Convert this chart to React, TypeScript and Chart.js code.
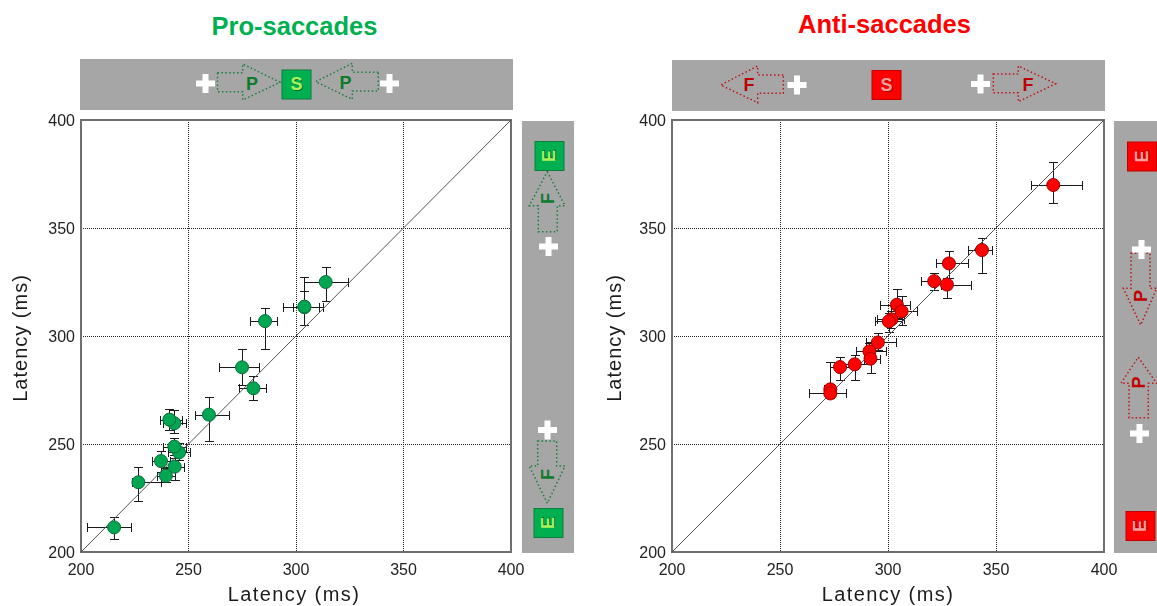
import React, { useEffect, useRef } from "react";
import { Chart, registerables } from "chart.js";

Chart.register(...registerables);

const proX = [215.4, 226.7, 239.5, 243.6, 237.2, 245.6, 243.4, 243.4, 241.1, 259.5, 280.2, 274.9, 285.6, 303.9, 303.9, 313.8];
const proXLow = [202.9, 223.6, 235.5, 238.3, 233.2, 240.6, 238.0, 238.3, 236.7, 252.9, 273.6, 264.3, 278.8, 293.8, 298.8, 303.7];
const proXHigh = [223.1, 237.1, 243.7, 248.1, 241.4, 250.7, 248.8, 248.8, 246.8, 268.7, 286.0, 282.6, 291.3, 310.5, 312.7, 324.3];
const proY = [211.4, 232.3, 235.3, 239.5, 242.1, 246.1, 248.8, 259.6, 261.3, 263.6, 275.8, 285.5, 306.9, 313.3, 313.6, 325.0];
const proYLow = [205.9, 223.6, 232.6, 233.3, 237.2, 242.6, 244.9, 255.0, 256.5, 251.4, 270.2, 277.3, 293.8, 305.1, 305.1, 316.4];
const proYHigh = [216.0, 239.5, 238.7, 243.4, 246.9, 250.3, 252.6, 265.7, 266.2, 271.6, 281.5, 293.8, 312.8, 321.0, 327.5, 332.1];

const antiX = [376.5, 343.5, 328.2, 321.4, 327.3, 304.1, 306.3, 301.6, 300.4, 295.3, 291.4, 291.9, 284.6, 277.8, 273.3, 273.3];
const antiXLow = [366.1, 337.2, 322.0, 315.4, 324.4, 296.2, 301.2, 294.7, 294.0, 289.6, 285.4, 289.1, 277.2, 273.3, 270.5, 263.4];
const antiXHigh = [389.8, 348.2, 337.0, 327.1, 338.6, 310.1, 313.2, 307.4, 306.6, 303.6, 299.0, 296.2, 291.9, 284.5, 275.6, 280.4];
const antiY = [369.9, 339.8, 333.6, 325.4, 323.8, 314.5, 311.4, 307.7, 306.8, 297.0, 292.9, 289.5, 286.9, 285.6, 275.3, 273.4];
const antiYLow = [361.7, 329.0, 326.7, 321.3, 317.7, 308.2, 305.1, 303.5, 302.0, 293.5, 288.9, 283.0, 279.5, 279.6, 271.1, 271.1];
const antiYHigh = [380.4, 345.5, 339.5, 329.0, 326.7, 321.6, 318.5, 311.6, 310.5, 301.5, 296.6, 293.5, 291.2, 290.1, 287.8, 278.0];

const axisMin = 200;
const axisMax = 400;
const axisStep = 50;
const identityLine = [200, 400];
const axisLabel = "Latency (ms)";
const proTitle = "Pro-saccades";
const antiTitle = "Anti-saccades";

const SANS = '"Liberation Sans", Arial, sans-serif';
const GREEN = { fill: "#00b050", edge: "#0b7d3c", text: "#a6f25c", shadow: "#0a6a30", dash: "#1b7d40", letter: "#0d7a2c" };
const RED = { fill: "#ff0000", edge: "#c00000", text: "#ff9c9c", shadow: "#a00000", dash: "#c0141c", letter: "#c00000" };

type Palette = typeof GREEN;

const Cross = ({ x, y }: { x: number; y: number }) => (
  <path
    d={`M${x - 9.5} ${y - 3}H${x - 3}V${y - 9.5}H${x + 3}V${y - 3}H${x + 9.5}V${y + 3}H${x + 3}V${y + 9.5}H${x - 3}V${y + 3}H${x - 9.5}Z`}
    fill="#fff"
  />
);

const Square = ({ x, y, label, c, rot }: { x: number; y: number; label: string; c: Palette; rot?: boolean }) => (
  <g>
    <rect x={x - 14.5} y={y - 14.5} width={29} height={29} fill={c.fill} stroke={c.edge} strokeWidth={1} />
    <g transform={`translate(${x} ${y})${rot ? " rotate(-90)" : ""}`}>
      <text x={1} y={6.5} textAnchor="middle" fontFamily={SANS} fontWeight="bold" fontSize={18} fill={c.shadow}>{label}</text>
      <text x={0} y={5.5} textAnchor="middle" fontFamily={SANS} fontWeight="bold" fontSize={18} fill={c.text}>{label}</text>
    </g>
  </g>
);

const Arrow = ({ pts, lx, ly, label, c, rot }: { pts: string; lx: number; ly: number; label: string; c: Palette; rot?: boolean }) => (
  <g>
    <polygon points={pts} fill="none" stroke={c.dash} strokeWidth={1.5} strokeDasharray="1.5 2.4" />
    <g transform={`translate(${lx} ${ly})${rot ? " rotate(-90)" : ""}`}>
      <text x={0} y={6.5} textAnchor="middle" fontFamily={SANS} fontWeight="bold" fontSize={18} fill={c.letter}>{label}</text>
    </g>
  </g>
);

const Diagrams = () => (
  <svg width={1157} height={606} style={{ position: "absolute", left: 0, top: 0 }}>
    <text x={294.5} y={35} textAnchor="middle" fontFamily={SANS} fontWeight="bold" fontSize={25.5} fill="#00b050">{proTitle}</text>
    <text x={884.5} y={33} textAnchor="middle" fontFamily={SANS} fontWeight="bold" fontSize={25.5} fill="#ff0000">{antiTitle}</text>

    <rect x={80} y={59} width={433} height={51} fill="#a6a6a6" />
    <rect x={672} y={60} width={433} height={51} fill="#a6a6a6" />
    <rect x={522} y={121} width={52} height={432} fill="#a6a6a6" />
    <rect x={1114} y={121} width={43} height={432} fill="#a6a6a6" />

    <Cross x={205.5} y={83.5} />
    <Arrow c={GREEN} label="P" lx={252} ly={83} pts="217.5,72.7 242.7,72.7 242.7,64 280,82.3 242.7,100 242.7,91.7 217.5,91.7" />
    <Square c={GREEN} label="S" x={296.5} y={84.5} />
    <Arrow c={GREEN} label="P" lx={345.5} ly={82.5} pts="378.3,72.3 352.3,72.3 352.3,63.3 315.7,81.7 352.3,99.3 352.3,91 378.3,91" />
    <Cross x={389.5} y={83.5} />

    <Arrow c={RED} label="F" lx={749} ly={84} pts="783.3,75 757.7,75 757.7,66 720.7,85 757.7,102.7 757.7,93.3 783.3,93.3" />
    <Cross x={797} y={85} />
    <Square c={RED} label="S" x={886.5} y={85} />
    <Cross x={980.5} y={84} />
    <Arrow c={RED} label="F" lx={1028} ly={84} pts="993.3,74 1018.3,74 1018.3,66 1055.7,83.7 1018.3,101.7 1018.3,92.7 993.3,92.7" />

    <Square c={GREEN} label="E" x={549.5} y={156} rot />
    <Arrow c={GREEN} label="F" lx={547.5} ly={198.5} rot pts="547.3,171.7 565,205.7 557.3,205.7 557.3,231.7 538.3,231.7 538.3,205.7 529.3,205.7" />
    <Cross x={548.5} y={246.5} />
    <Cross x={547.5} y={430} />
    <Arrow c={GREEN} label="F" lx={547} ly={474.5} rot pts="537.7,441 556.7,441 556.7,466 565,466 547.3,503.3 529.3,466 537.7,466" />
    <Square c={GREEN} label="E" x={548.5} y={523} rot />

    <Square c={RED} label="E" x={1142} y={156.5} rot />
    <Arrow c={RED} label="P" lx={1140} ly={296} rot pts="1131,253.3 1150,253.3 1150,288.3 1156.7,288.3 1140.7,325 1123.3,288.3 1131,288.3" />
    <Cross x={1141.5} y={249.5} />
    <Arrow c={RED} label="P" lx={1138.5} ly={382.5} rot pts="1138.3,357.3 1156.7,383.3 1148.3,383.3 1148.3,417.7 1129,417.7 1129,383.3 1121,383.3" />
    <Cross x={1139.5} y={433.5} />
    <Square c={RED} label="E" x={1140.5} y={526} rot />
  </svg>
);

interface PanelProps {
  left: number;
  width: number;
  axisWidth: number;
  rightPad: number;
  xs: number[];
  xLow: number[];
  xHigh: number[];
  ys: number[];
  yLow: number[];
  yHigh: number[];
  fill: string;
  edge: string;
  name: string;
  yTitleX: number;
  xTitleX: number;
}

const Panel = (p: PanelProps) => {
  const ref = useRef<HTMLCanvasElement | null>(null);
  useEffect(() => {
    if (!ref.current) return;

    const whiskers = {
      id: "whiskers",
      beforeDraw(chart: any) {
        chart.scales.y.getLabelItems().forEach((item: any) => {
          if (!item.shifted) {
            item.options.translation[1] += 1.5;
            item.shifted = true;
          }
        });
      },
      beforeDatasetsDraw(chart: any) {
        const { ctx, scales, chartArea: a } = chart;
        const { x, y } = scales;
        ctx.save();
        ctx.strokeStyle = "#6f6f6f";
        ctx.lineWidth = 2;
        ctx.strokeRect(a.left, a.top, a.right - a.left, a.bottom - a.top);
        ctx.strokeStyle = "#1a1a1a";
        ctx.lineWidth = 1;
        const cap = 4.5;
        ctx.beginPath();
        p.xs.forEach((_, i) => {
          const px = Math.round(x.getPixelForValue(p.xs[i])) + 0.5;
          const py = Math.round(y.getPixelForValue(p.ys[i])) + 0.5;
          const x0 = Math.round(x.getPixelForValue(p.xLow[i])) + 0.5;
          const x1 = Math.round(x.getPixelForValue(p.xHigh[i])) + 0.5;
          const y0 = Math.round(y.getPixelForValue(p.yLow[i])) + 0.5;
          const y1 = Math.round(y.getPixelForValue(p.yHigh[i])) + 0.5;
          ctx.moveTo(x0, py); ctx.lineTo(x1, py);
          ctx.moveTo(x0, py - cap); ctx.lineTo(x0, py + cap);
          ctx.moveTo(x1, py - cap); ctx.lineTo(x1, py + cap);
          ctx.moveTo(px, y0); ctx.lineTo(px, y1);
          ctx.moveTo(px - cap, y0); ctx.lineTo(px + cap, y0);
          ctx.moveTo(px - cap, y1); ctx.lineTo(px + cap, y1);
        });
        ctx.stroke();
        ctx.restore();
      },
      afterDraw(chart: any) {
        const { ctx, chartArea: a } = chart;
        ctx.save();
        ctx.fillStyle = "#1c1c1c";
        ctx.font = `20px ${SANS}`;
        ctx.letterSpacing = "1.4px";
        ctx.textAlign = "center";
        ctx.textBaseline = "middle";
        ctx.fillText(axisLabel, p.xTitleX - p.left, 595);
        ctx.letterSpacing = "1px";
        ctx.translate(p.yTitleX - p.left, (a.top + a.bottom) / 2 + 2);
        ctx.rotate(-Math.PI / 2);
        ctx.fillText(axisLabel, 0, 0);
        ctx.restore();
      },
    };

    const axis = (extra: object) => ({
      type: "linear",
      min: axisMin,
      max: axisMax,
      border: { display: false, dash: [1, 1] },
      grid: {
        drawTicks: false,
        color: (c: any) => (c.tick.value === axisMin || c.tick.value === axisMax ? "transparent" : "#222"),
        lineWidth: 1,
      },
      ...extra,
    });

    const chart = new Chart(ref.current, {
      type: "scatter",
      data: {
        datasets: [
          {
            type: "line",
            label: "identity",
            data: identityLine.map((v) => ({ x: v, y: v })),
            borderColor: "#555",
            borderWidth: 1,
            pointRadius: 0,
            order: 2,
          },
          {
            label: p.name,
            data: p.xs.map((x, i) => ({ x, y: p.ys[i] })),
            backgroundColor: p.fill,
            borderColor: p.edge,
            borderWidth: 1,
            pointRadius: 6.5,
            order: 1,
          },
        ],
      },
      options: {
        responsive: false,
        animation: false,
        layout: { padding: { top: 120, right: p.rightPad, left: 0, bottom: 0 } },
        plugins: { legend: { display: false }, tooltip: { enabled: false } },
        scales: {
          x: axis({
            afterFit: (s: any) => { s.height = 54; },
            ticks: { stepSize: axisStep, maxRotation: 0, padding: 9, color: "#222", font: { size: 16, family: SANS } },
          }),
          y: axis({
            afterFit: (s: any) => { s.width = p.axisWidth; },
            ticks: { stepSize: axisStep, padding: 6, color: "#222", font: { size: 16, family: SANS } },
          }),
        },
      } as any,
      plugins: [whiskers],
    } as any);
    return () => chart.destroy();
  }, []);
  return (
    <canvas
      ref={ref}
      width={p.width}
      height={606}
      style={{ position: "absolute", left: p.left, top: 0, width: p.width, height: 606 }}
    />
  );
};

export default function App() {
  return (
    <div style={{ position: "absolute", left: 0, top: 0, width: 1157, height: 606, background: "#fff", overflow: "hidden" }}>
      <Diagrams />
      <Panel
        name="Pro-saccades" left={0} width={540} axisWidth={81} rightPad={29}
        xs={proX} xLow={proXLow} xHigh={proXHigh} ys={proY} yLow={proYLow} yHigh={proYHigh}
        fill="#00a651" edge="#0b6e3a" yTitleX={21} xTitleX={294}
      />
      <Panel
        name="Anti-saccades" left={590} width={567} axisWidth={82} rightPad={53}
        xs={antiX} xLow={antiXLow} xHigh={antiXHigh} ys={antiY} yLow={antiYLow} yHigh={antiYHigh}
        fill="#ff0000" edge="#a00000" yTitleX={615} xTitleX={888}
      />
    </div>
  );
}
